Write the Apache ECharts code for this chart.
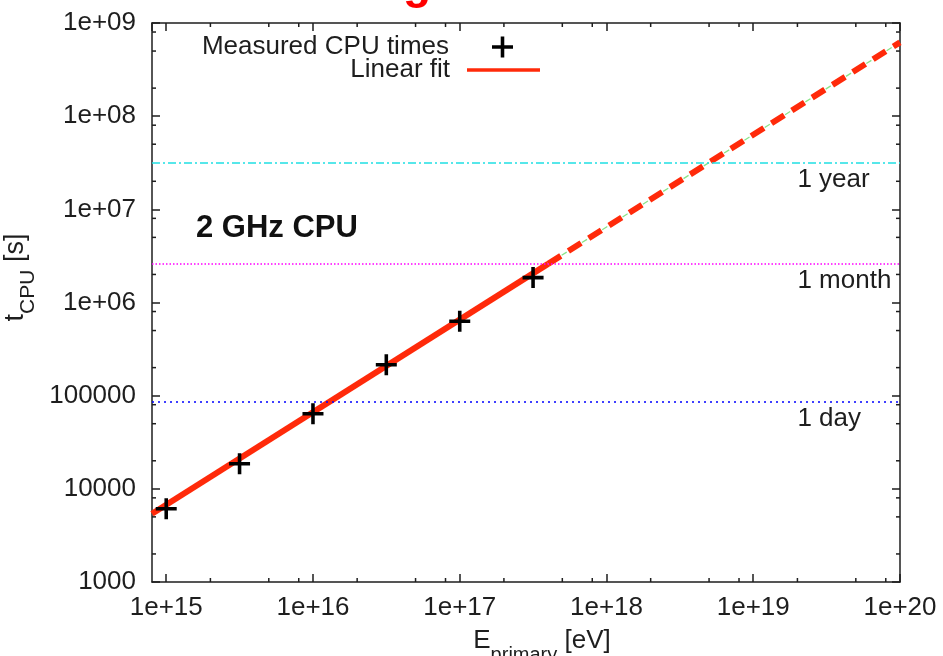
<!DOCTYPE html>
<html>
<head>
<meta charset="utf-8">
<title>CPU time vs primary energy</title>
<script src="https://cdn.jsdelivr.net/npm/echarts@6/dist/echarts.min.js"></script>
<style>
  html, body { margin: 0; padding: 0; background: #fff; }
  #chart { width: 943px; height: 656px; }
</style>
</head>
<body>
<div id="chart"></div>
<script>
// Measured CPU times per shower (2 GHz CPU)
const energyEV = [1e15, 3.16e15, 1e16, 3.16e16, 1e17, 3.16e17];
const cpuSeconds = [6100, 18600, 64000, 215000, 630000, 1850000];

// Linear fit: fitted range and extrapolation
const fitEnergy = [8e14, 4e17];
const fitSeconds = [5400, 2.6e6];
const extrapEnergy = [4e17, 1e20];
const extrapSeconds = [2.6e6, 6.2e8];

// Reference durations
const refNames = ['1 day', '1 month', '1 year'];
const refSeconds = [86400, 2592000, 31536000];

// Axis ranges and minor tick positions within each decade
const xRange = [8e14, 1e20];
const yRange = [1e3, 1e9];
const minorFactors = [2, 5, 8];
const xDecades = [1e15, 1e16, 1e17, 1e18, 1e19];
const yDecades = [1e3, 1e4, 1e5, 1e6, 1e7, 1e8];

const FONT = '"Liberation Sans", Arial, sans-serif';
const INK = '#1e1e1e';
const RED = '#ff2a0a';
const LABEL_SIZE = 26;

const refStyles = [
  { color: '#0000ff', width: 1.5, type: [2, 4] },
  { color: '#ff00ff', width: 1.5, type: [1.5, 2] },
  { color: '#1fe0e4', width: 1.5, type: [8, 3, 2, 3] }
];

function isPow10(v) {
  const e = Math.log10(v);
  return Math.abs(e - Math.round(e)) < 1e-6;
}
function expLabel(v) {
  const e = Math.round(Math.log10(v));
  return '1e+' + (e < 10 ? '0' + e : e);
}
function xLabel(v) { return isPow10(v) ? expLabel(v) : ''; }
function yLabel(v) {
  if (!isPow10(v)) return '';
  const e = Math.round(Math.log10(v));
  return e < 6 ? String(Math.pow(10, e)) : expLabel(v);
}

const minorX = [];
xDecades.forEach(d => minorFactors.forEach(f => minorX.push(d * f)));
const minorY = [];
yDecades.forEach(d => minorFactors.forEach(f => minorY.push(d * f)));

function minorXTicks(params, api) {
  const cs = params.coordSys;
  const px = api.coord([api.value(0), api.value(1)])[0];
  const style = { stroke: INK, lineWidth: 1.5 };
  return {
    type: 'group',
    children: [
      { type: 'line', shape: { x1: px, y1: cs.y + cs.height, x2: px, y2: cs.y + cs.height - 4 }, style },
      { type: 'line', shape: { x1: px, y1: cs.y, x2: px, y2: cs.y + 4 }, style }
    ]
  };
}
function minorYTicks(params, api) {
  const cs = params.coordSys;
  const py = api.coord([api.value(0), api.value(1)])[1];
  const style = { stroke: INK, lineWidth: 1.5 };
  return {
    type: 'group',
    children: [
      { type: 'line', shape: { x1: cs.x, y1: py, x2: cs.x + 4, y2: py }, style },
      { type: 'line', shape: { x1: cs.x + cs.width, y1: py, x2: cs.x + cs.width - 4, y2: py }, style }
    ]
  };
}

const axisLine = { show: true, lineStyle: { color: INK, width: 1.5 } };
const axisTick = { show: true, inside: true, length: 8, lineStyle: { color: INK, width: 1.5 } };
const labelStyle = { fontSize: LABEL_SIZE, color: INK, fontFamily: FONT };

const plusPath = 'path://M-1.7,-10H1.7V-1.7H10V1.7H1.7V10H-1.7V1.7H-10V-1.7H-1.7Z';

const chart = echarts.init(document.getElementById('chart'), null, { renderer: 'canvas' });

chart.setOption({
  animation: false,
  backgroundColor: '#fff',
  textStyle: { fontFamily: FONT },
  grid: { left: 152, right: 43, top: 23, bottom: 74, containLabel: false, outerBoundsMode: 'none' },
  legend: [
    {
      data: [{ name: 'Measured CPU times', icon: plusPath }],
      orient: 'vertical', align: 'right',
      right: 430, top: 34, padding: 0,
      itemWidth: 73, itemHeight: 21,
      itemStyle: { opacity: 1 },
      textStyle: { fontSize: LABEL_SIZE, color: INK, fontFamily: FONT, padding: [0, 12, 0, 0] }
    },
    {
      data: [{ name: 'Linear fit', icon: 'rect' }],
      orient: 'vertical', align: 'right',
      right: 403, top: 57, padding: 0,
      itemWidth: 73, itemHeight: 3.5,
      textStyle: { fontSize: LABEL_SIZE, color: INK, fontFamily: FONT, padding: [0, 12, 0, 0] }
    }
  ],
  graphic: [
    {
      type: 'text', left: 196, top: 213,
      style: { text: '2 GHz CPU', font: 'bold 31px ' + FONT, fill: '#111' }
    },
    {
      type: 'text', left: 403, top: -38,
      style: { text: 'g', font: 'bold 46px ' + FONT, fill: '#ff0000' }
    }
  ],
  xAxis: [
    {
      type: 'log', logBase: 10, min: xRange[0], max: xRange[1], position: 'bottom',
      axisLine, axisTick,
      axisLabel: Object.assign({ formatter: xLabel, margin: 13, showMinLabel: false }, labelStyle),
      splitLine: { show: false },
      name: '{a|E}{b|primary}{a| [eV]}',
      nameLocation: 'middle', nameGap: 46,
      nameTextStyle: {
        padding: [0, 0, 0, 32],
        rich: {
          a: { fontSize: 26, color: INK, fontFamily: FONT, lineHeight: 30, verticalAlign: 'top' },
          b: { fontSize: 20, color: INK, fontFamily: FONT, lineHeight: 20, padding: [17, 0, 0, 0], verticalAlign: 'top' }
        }
      }
    },
    {
      type: 'log', logBase: 10, min: xRange[0], max: xRange[1], position: 'top',
      axisLine, axisTick, axisLabel: { show: false }, splitLine: { show: false }
    }
  ],
  yAxis: [
    {
      type: 'log', logBase: 10, min: yRange[0], max: yRange[1], position: 'left',
      axisLine, axisTick,
      axisLabel: Object.assign({ formatter: yLabel, margin: 16 }, labelStyle),
      splitLine: { show: false },
      name: '{a|t}{b|CPU}{a| [s]}',
      nameLocation: 'middle', nameGap: 104, nameRotate: 90,
      nameTextStyle: {
        padding: [0, 0, 0, 50],
        rich: {
          a: { fontSize: 27, color: INK, fontFamily: FONT, lineHeight: 30, verticalAlign: 'top' },
          b: { fontSize: 21, color: INK, fontFamily: FONT, lineHeight: 21, padding: [15, 0, 0, 0], verticalAlign: 'top' }
        }
      }
    },
    {
      type: 'log', logBase: 10, min: yRange[0], max: yRange[1], position: 'right',
      axisLine, axisTick, axisLabel: { show: false }, splitLine: { show: false }
    }
  ],
  series: [
    {
      name: 'minor x ticks', type: 'custom', silent: true, z: 10,
      renderItem: minorXTicks,
      data: minorX.map(v => [v, yRange[0]])
    },
    {
      name: 'minor y ticks', type: 'custom', silent: true, z: 10,
      renderItem: minorYTicks,
      data: minorY.map(v => [xRange[0], v])
    },
    {
      name: 'Reference durations', type: 'scatter', silent: true, z: 1,
      symbolSize: 0,
      itemStyle: { opacity: 1 },
      data: refNames.map((n, i) => ({ name: n, value: [2e19, refSeconds[i]] })),
      label: {
        show: true, position: [0, 17], align: 'left', verticalAlign: 'middle',
        formatter: '{b}', fontSize: LABEL_SIZE, color: INK, fontFamily: FONT, opacity: 1
      },
      markLine: {
        silent: true, symbol: 'none', animation: false,
        label: { show: false },
        data: refSeconds.map((s, i) => ({ yAxis: s, lineStyle: refStyles[i] }))
      }
    },
    {
      name: 'Extrapolation guide', type: 'line', z: 2,
      symbol: 'none',
      lineStyle: { color: '#88e488', width: 1.3, type: [6, 2] },
      data: extrapEnergy.map((e, i) => [e, extrapSeconds[i]])
    },
    {
      name: 'Linear fit', type: 'line', z: 3,
      symbol: 'none', color: RED,
      lineStyle: { color: RED, width: 6 },
      data: fitEnergy.map((e, i) => [e, fitSeconds[i]])
    },
    {
      name: 'Linear fit (extrapolated)', type: 'line', z: 3,
      symbol: 'none', color: RED,
      lineStyle: { color: RED, width: 6, type: [15, 9] },
      data: extrapEnergy.map((e, i) => [e, extrapSeconds[i]])
    },
    {
      name: 'Measured CPU times', type: 'scatter', z: 5,
      symbol: plusPath, symbolSize: 21, symbolKeepAspect: true,
      itemStyle: { color: '#000', opacity: 1 },
      data: energyEV.map((e, i) => [e, cpuSeconds[i]])
    }
  ]
});
</script>
</body>
</html>
